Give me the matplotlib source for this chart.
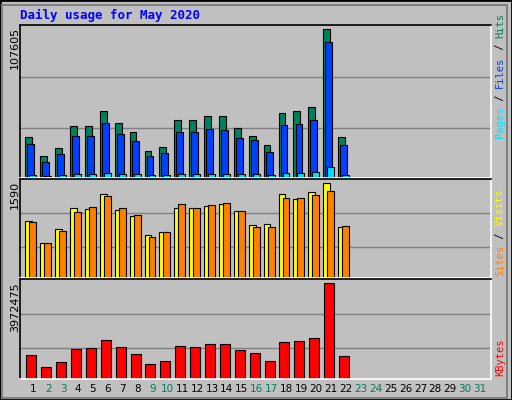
import matplotlib.pyplot as plt
import numpy as np

days = np.arange(1, 32)
n = 22  # days with data
hits = [29457, 15581, 21424, 37491, 37491, 48447, 39682, 33109, 19233, 22154, 41873,
        41873, 44795, 44795, 36031, 30188, 23615, 46986, 48447, 51368, 107605, 29457]
files = [24345, 11929, 17041, 30188, 30188, 39682, 31649, 26536, 15581, 17772, 33109,
         33109, 35300, 34570, 28727, 27266, 18502, 38222, 38952, 41873, 98110, 23615]
pages = [2435, 1704, 2435, 3165, 3165, 3895, 3165, 3165, 2435, 2435, 3165,
         3165, 3165, 3165, 3165, 3165, 2435, 3895, 3895, 4626, 8277, 2435]
visits = [953, 591, 832, 1177, 1160, 1418, 1142, 1039, 729, 781, 1177,
          1177, 1211, 1246, 1125, 884, 901, 1418, 1332, 1452, 1590, 850]
sites = [936, 591, 798, 1108, 1194, 1383, 1177, 1056, 695, 781, 1246,
         1177, 1228, 1263, 1125, 850, 850, 1349, 1349, 1401, 1470, 867]
kbytes = [1014860, 492930, 710400, 1232300, 1275800, 1623800, 1319300, 1058400, 623400,
          753900, 1362800, 1319300, 1449800, 1449800, 1188800, 1101800, 753900, 1536800,
          1580300, 1710800, 3972475, 971400]
weekend = [2, 3, 9, 10, 16, 17, 23, 24, 30, 31]

BG = '#c0c0c0'
W, H = 512, 400
fig = plt.figure(figsize=(5.12, 4.0), dpi=100, facecolor=BG)
mono = 'DejaVu Sans Mono'

# outer border
fig.patches.append(plt.Rectangle((0, 0), 1, 1, transform=fig.transFigure,
                                 fill=False, edgecolor='black', lw=2))
fig.patches.append(plt.Rectangle((2 / W, 2 / H), 1 - 7 / W, 1 - 7 / H, transform=fig.transFigure,
                                 fill=False, edgecolor='#808080', lw=1.5))

fig.text(20 / W, 1 - 15 / H, 'Daily usage for May 2020', color='#0000ff', fontsize=9,
         fontweight='bold', family=mono, va='center')


def panel(top, bottom):
    ax = fig.add_axes([20 / W, 1 - bottom / H, 471 / W, (bottom - top) / H])
    ax.set_facecolor(BG)
    ax.set_xlim(0.107, 31.74)
    ax.set_xticks([])
    ax.set_yticks([])
    for s in ['top', 'left']:
        ax.spines[s].set_color('black')
    for s in ['bottom', 'right']:
        ax.spines[s].set_color('white')
    for s in ax.spines.values():
        s.set_linewidth(1.2)
    return ax


x = days[:n]
kw = dict(edgecolor='black', linewidth=0.8, align='edge')

ax1 = panel(25, 178)
ax1.set_ylim(0, 110770)
for g in [36030, 73280]:
    ax1.axhline(g, color='#808080', lw=1, zorder=0)
ax1.bar(x - 0.53, hits, 0.46, color='#00805c', **kw)
ax1.bar(x - 0.39, files, 0.46, color='#0040ff', **kw)
ax1.bar(x - 0.26, pages, 0.46, color='#00e0ff', **kw)

ax2 = panel(179, 278)
ax2.set_ylim(0, 1665)
for g in [522, 1091]:
    ax2.axhline(g, color='#808080', lw=1, zorder=0)
ax2.bar(x - 0.53, visits, 0.46, color='#ffff00', **kw)
ax2.bar(x - 0.26, sites, 0.46, color='#ff8000', **kw)

ax3 = panel(279, 379)
ax3.set_ylim(0, 4158950)
for g in [1290300, 2711000]:
    ax3.axhline(g, color='#808080', lw=1, zorder=0)
ax3.bar(x - 0.47, kbytes, 0.67, color='#ff0000', **kw)

# left max labels
for ytop, lab in [(27, '107605'), (181, '1590'), (282, '3972475')]:
    fig.text(15 / W, 1 - ytop / H, lab, rotation=90, fontsize=8, va='top', ha='center',
             family='DejaVu Sans')

# right legends, reading bottom to top
FS = 7.5
CH = FS * 0.602 * 100 / 72  # advance of one mono char in pixels


def legend(parts, ybottom):
    y = ybottom
    for txt, col in parts:
        fig.text(500 / W, 1 - y / H, txt, rotation=90, fontsize=FS, color=col,
                 family=mono, va='bottom', ha='center')
        y -= len(txt) * CH

legend([('Pages', '#00e0ff'), (' / ', 'black'), ('Files', '#0040ff'), (' / ', 'black'),
        ('Hits', '#00805c')], 138)
legend([('Sites', '#ff8000'), (' / ', 'black'), ('Visits', '#ffff00')], 276)
legend([('KBytes', '#ff0000')], 376)

# day labels
for d in days:
    xp = (20 + 471 * (d - 0.107) / (31.74 - 0.107)) / W
    fig.text(xp, 1 - 389 / H, str(d), fontsize=7.5, ha='center', va='center',
             color='#00805c' if d in weekend else 'black')

fig.savefig('out.png', dpi=100, facecolor=BG)
